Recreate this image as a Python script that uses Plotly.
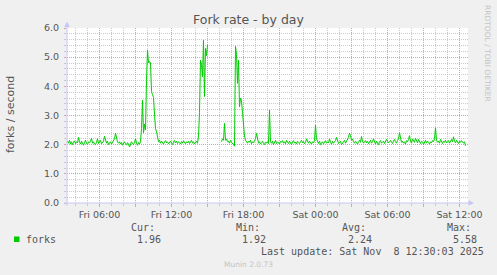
import math
import pandas as pd
import plotly.graph_objects as go

nan = float("nan")

# ---- data ----
start_time = "2025-11-07 03:20"
step = "5min"
forks = [
    2.12, 2.05, 2.15, 2.02, 2.10, 2.00, 2.08, 2.13, 2.03, 2.10, 2.06, 2.25, 2.10, 2.02, 2.12, 2.05, 1.98, 2.08, 2.15, 2.04,
    2.00, 2.10, 2.06, 2.12, 2.22, 2.05, 2.10, 2.02, 2.00, 2.08, 2.20, 2.04, 2.10, 2.15, 2.03, 2.08, 2.12, 2.29, 2.10, 2.05,
    2.12, 2.00, 2.06, 2.10, 2.02, 2.08, 2.15, 2.20, 2.39, 2.20, 2.10, 2.05, 2.10, 2.02, 2.08, 1.98, 2.05, 2.10, 2.03, 2.00,
    2.07, 2.02, 1.92, 2.05, 2.10, 2.04, 2.00, 2.08, 2.20, 2.05, 1.98, 2.08, 2.02, 2.10, 2.56, 3.53, 2.40, 2.70, 2.50, 4.20,
    5.25, 4.80, 4.85, 4.80, 3.82, 3.72, 3.62, 3.05, 2.55, 2.45, 2.20, 2.10, 2.15, 2.05, 2.12, 2.08, 2.02, 2.10, 2.14, 2.06,
    2.10, 2.03, 2.08, 2.12, 2.05, 2.00, 2.09, 2.15, 2.06, 2.12, 2.04, 2.10, 2.07, 2.02, 2.11, 2.05, 2.13, 2.08, 2.03, 2.10,
    2.06, 2.12, 2.04, 2.09, 2.15, 2.05, 2.10, 2.02, 2.08, 2.12, 2.05, 2.30, 3.10, 4.90, 4.75, 4.33, 5.58, 3.65, 5.30, 5.05,
    5.42, nan, nan, nan, nan, nan, nan, nan, nan, nan, nan, nan, nan, nan, 2.10, 2.20, 2.15, 2.73, 2.15, 2.20,
    2.10, 2.12, 2.05, 2.15, 2.08, 2.05, 2.00, 1.95, 5.37, 5.10, 4.10, 4.90, 3.30, 3.60, 3.50, 3.10, 2.50, 2.30, 2.15, 2.10,
    2.05, 2.12, 2.08, 2.15, 2.03, 2.10, 2.06, 2.14, 2.20, 2.39, 2.15, 2.05, 2.10, 2.02, 2.08, 2.12, 2.04, 2.00, 2.09, 2.05,
    2.10, 2.04, 3.19, 2.10, 2.05, 2.12, 2.00, 2.08, 2.15, 2.04, 2.10, 2.06, 2.02, 2.11, 2.08, 2.14, 2.05, 2.10, 2.03, 2.15,
    2.08, 2.04, 2.12, 2.06, 2.00, 2.10, 2.14, 2.05, 2.09, 2.02, 2.12, 2.07, 2.04, 2.10, 2.15, 2.06, 2.11, 2.03, 2.08, 2.20,
    2.10, 2.05, 2.12, 2.08, 2.02, 2.10, 2.06, 2.15, 2.67, 2.20, 2.08, 2.04, 2.12, 2.00, 2.06, 2.10, 2.03, 2.09, 2.14, 2.05,
    2.10, 2.06, 2.20, 2.08, 2.02, 2.12, 2.05, 2.10, 2.14, 2.25, 2.10, 2.04, 2.08, 2.12, 2.00, 2.06, 2.10, 2.15, 2.05, 2.12,
    2.18, 2.25, 2.39, 2.31, 2.15, 2.20, 2.10, 2.05, 2.12, 2.08, 2.02, 2.10, 2.15, 2.08, 2.28, 2.12, 2.05, 2.10, 2.14, 2.06,
    2.12, 2.03, 2.09, 2.15, 2.05, 2.10, 2.20, 2.08, 2.02, 2.12, 2.06, 2.00, 2.10, 2.14, 2.05, 2.09, 2.12, 2.04, 2.10, 2.18,
    2.12, 2.06, 2.10, 2.15, 2.08, 2.04, 2.12, 2.18, 2.10, 2.05, 2.14, 2.20, 2.41, 2.15, 2.08, 2.12, 2.05, 2.10, 2.02, 2.14,
    2.10, 2.18, 2.31, 2.12, 2.05, 2.20, 2.15, 2.08, 2.22, 2.12, 2.06, 2.18, 2.10, 2.04, 2.12, 2.08, 2.00, 2.10, 2.15, 2.05,
    2.12, 2.08, 2.02, 2.10, 2.06, 2.14, 2.10, 2.20, 2.58, 2.15, 2.08, 2.12, 2.05, 2.18, 2.10, 2.04, 2.12, 2.08, 2.15, 2.06,
    2.10, 2.14, 2.05, 2.12, 2.18, 2.10, 2.27, 2.12, 2.06, 2.15, 2.10, 2.04, 2.12, 2.08, 2.14, 2.10, 2.05, 2.10, 1.96,
]
times = pd.date_range(start_time, periods=len(forks), freq=step)

x_range = ["2025-11-07 03:17:30", "2025-11-08 12:42:30"]
x_tickvals = ["2025-11-07 06:00", "2025-11-07 09:00", "2025-11-07 12:00", "2025-11-07 15:00",
              "2025-11-07 18:00", "2025-11-07 21:00", "2025-11-08 00:00", "2025-11-08 03:00",
              "2025-11-08 06:00", "2025-11-08 09:00", "2025-11-08 12:00"]
x_ticktext = ["Fri 06:00", "", "Fri 12:00", "", "Fri 18:00", "", "Sat 00:00", "",
              "Sat 06:00", "", "Sat 12:00"]
y_tickvals = [0, 1, 2, 3, 4, 5, 6]
y_ticktext = ["0.0", "1.0", "2.0", "3.0", "4.0", "5.0", "6.0"]

legend_name = "forks"
stat_labels = ["Cur:", "Min:", "Avg:", "Max:"]
stat_values = ["1.96", "1.92", "2.24", "5.58"]
title_text = "Fork rate - by day"
ylabel_text = "forks / second"
last_update = "Last update: Sat Nov \u00a08 12:30:03 2025"
side_text = "RRDTOOL / TOBI OETIKER"
footer_text = "Munin 2.0.73"

# ---- geometry (pixels) ----
W, H = 497, 275
L, R, T, B = 67, 468, 28, 203
PW, PH = R - L, B - T


def px(x):
    return (x - L) / PW


def py(y):
    return (B - y) / PH


TEXT = "#555555"
FAINT = "#c4c4c4"
GREEN = "#00cc00"
AXIS = "#c6c6f6"
MAJOR = "rgba(230,150,150,0.85)"
MINOR = "rgba(190,190,190,0.8)"
SANS = "DejaVu Sans"
MONO = "DejaVu Sans Mono"

fig = go.Figure()
fig.add_trace(go.Scatter(x=times, y=forks, mode="lines",
                         line=dict(color=GREEN, width=1), connectgaps=False,
                         showlegend=False, hoverinfo="skip"))

fig.update_layout(
    width=W, height=H,
    margin=dict(l=L, r=W - R, t=T, b=H - B, autoexpand=False),
    paper_bgcolor="#f0f0f0", plot_bgcolor="#ffffff",
    showlegend=False,
    xaxis=dict(
        type="date", range=x_range, tickmode="array",
        tickvals=x_tickvals, ticktext=x_ticktext,
        showgrid=True, gridcolor=MAJOR, griddash="1px,1px", gridwidth=1,
        ticks="outside", ticklen=3, tickcolor=MAJOR, tickwidth=1,
        ticklabelstandoff=0,
        tickfont=dict(family=SANS, size=9.5, color=TEXT),
        showline=False, zeroline=False,
        minor=dict(tickmode="linear", tick0="2025-11-07 04:00", dtick=3600000,
                   showgrid=True, gridcolor=MINOR, griddash="1px,1px", gridwidth=1,
                   ticks="outside", ticklen=2, tickcolor=MINOR),
    ),
    yaxis=dict(
        range=[0, 6], tickmode="array", tickvals=y_tickvals, ticktext=y_ticktext,
        showgrid=True, gridcolor=MAJOR, griddash="1px,1px", gridwidth=1,
        ticks="outside", ticklen=2, tickcolor=MAJOR,
        ticklabelstandoff=3,
        tickfont=dict(family=SANS, size=9.5, color=TEXT),
        showline=False, zeroline=False,
        minor=dict(tickmode="linear", tick0=0, dtick=0.2,
                   showgrid=True, gridcolor=MINOR, griddash="1px,1px", gridwidth=1,
                   ticks="outside", ticklen=2, tickcolor=MINOR),
    ),
)

shapes = [
    # axis lines
    dict(type="line", xref="paper", yref="paper", x0=px(64), x1=px(469), y0=py(203), y1=py(203),
         line=dict(color=AXIS, width=1)),
    dict(type="line", xref="paper", yref="paper", x0=px(67), x1=px(67), y0=py(206), y1=py(25),
         line=dict(color=AXIS, width=1)),
    # arrow heads
    dict(type="path", xref="paper", yref="paper",
         path=f"M {px(67)},{py(21.5)} L {px(64.2)},{py(27)} L {px(69.8)},{py(27)} Z",
         fillcolor=AXIS, line=dict(width=0)),
    dict(type="path", xref="paper", yref="paper",
         path=f"M {px(474)},{py(203)} L {px(468.5)},{py(200.2)} L {px(468.5)},{py(205.8)} Z",
         fillcolor=AXIS, line=dict(width=0)),
    # legend swatch
    dict(type="rect", xref="paper", yref="paper", x0=px(14), x1=px(19.5), y0=py(236.5), y1=py(242),
         fillcolor=GREEN, line=dict(width=0)),
]
fig.update_layout(shapes=shapes)


def ann(text, x, y, size, color=TEXT, family=SANS, xanchor="left", angle=0):
    fig.add_annotation(text=text, x=px(x), y=py(y), xref="paper", yref="paper",
                       xanchor=xanchor, yanchor="middle", showarrow=False,
                       textangle=angle, borderpad=0, borderwidth=0,
                       font=dict(family=family, size=size, color=color))


ann(title_text, 248.5, 19.5, 12.5, xanchor="center")
ann(ylabel_text, 10, 115, 11, xanchor="center", angle=-90)
ann(side_text, 488, 53, 7.5, color=FAINT, xanchor="center", angle=90)
ann(footer_text, 248, 264, 7.5, color=FAINT, xanchor="center")

ann(legend_name, 26, 239.5, 10, family=MONO)
label_x = [131, 236, 341.5, 446.5]
for lx, lab, val in zip(label_x, stat_labels, stat_values):
    ann(lab, lx, 227.5, 10, family=MONO)
    ann(val, lx + 6, 239.5, 10, family=MONO)
ann(last_update, 261, 251.5, 10, family=MONO)

fig.write_html("out.html")
